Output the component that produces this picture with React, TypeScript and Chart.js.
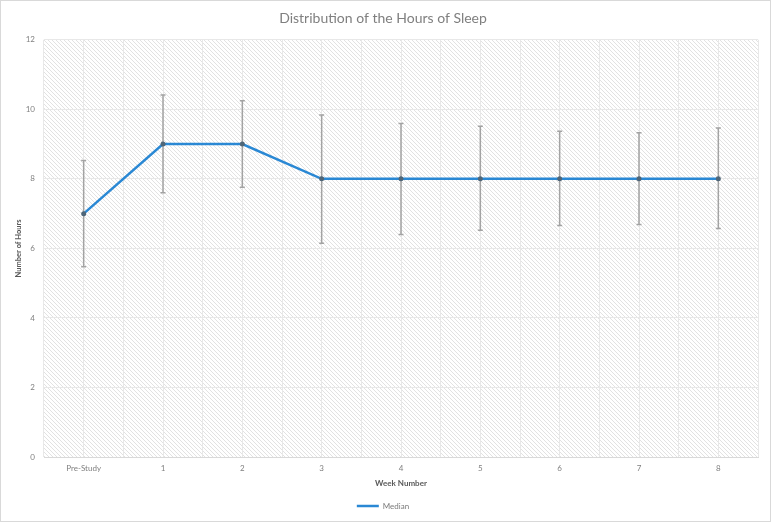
import React, { useEffect, useRef } from "react";
import { Chart, registerables } from "chart.js";

Chart.register(...registerables);

const categories = ["Pre-Study", "1", "2", "3", "4", "5", "6", "7", "8"];
const medianHours = [7, 9, 9, 8, 8, 8, 8, 8, 8];
const errorUpper = [8.53, 10.41, 10.25, 9.84, 9.59, 9.51, 9.37, 9.33, 9.46];
const errorLower = [5.47, 7.6, 7.76, 6.15, 6.4, 6.52, 6.66, 6.69, 6.57];
const yMin = 0;
const yMax = 12;
const yStep = 2;

const FONT = "Lato, 'Open Sans', 'DejaVu Sans', sans-serif";
const LINE_COLOR = "#2a88d4";

function makePattern(ctx: CanvasRenderingContext2D) {
  const c = document.createElement("canvas");
  c.width = 4;
  c.height = 4;
  const p = c.getContext("2d")!;
  p.fillStyle = "#ffffff";
  p.fillRect(0, 0, 4, 4);
  p.fillStyle = "#e2e2e2";
  for (let i = 0; i < 4; i++) {
    p.fillRect(i, i, 1, 1);
  }
  return ctx.createPattern(c, "repeat");
}

const hatchPlugin = {
  id: "hatch",
  beforeDraw(chart: any) {
    const { ctx, chartArea } = chart;
    if (!chartArea) return;
    const pat = makePattern(ctx);
    ctx.save();
    ctx.fillStyle = pat || "#f4f4f4";
    ctx.fillRect(chartArea.left, chartArea.top, chartArea.right - chartArea.left, chartArea.bottom - chartArea.top);
    ctx.restore();
  },
};

const errorBarPlugin = {
  id: "errorBars",
  beforeDatasetsDraw(chart: any) {
    const { ctx } = chart;
    const xs = chart.scales.x;
    const ys = chart.scales.y;
    ctx.save();
    ctx.strokeStyle = "#a3a3a3";
    ctx.lineWidth = 1.5;
    const cap = 2.5;
    for (let i = 0; i < categories.length; i++) {
      const x = xs.getPixelForValue(i);
      const yt = ys.getPixelForValue(errorUpper[i]);
      const yb = ys.getPixelForValue(errorLower[i]);
      ctx.beginPath();
      ctx.moveTo(x, yt);
      ctx.lineTo(x, yb);
      ctx.moveTo(x - cap, yt);
      ctx.lineTo(x + cap, yt);
      ctx.moveTo(x - cap, yb);
      ctx.lineTo(x + cap, yb);
      ctx.stroke();
    }
    ctx.restore();
  },
};

export default function App() {
  const ref = useRef<HTMLCanvasElement>(null);

  useEffect(() => {
    if (!ref.current) return;
    const chart = new Chart(ref.current, {
      type: "line",
      data: {
        labels: categories,
        datasets: [
          {
            label: "Median",
            data: medianHours,
            borderColor: LINE_COLOR,
            backgroundColor: LINE_COLOR,
            borderWidth: 2.5,
            pointRadius: 2.5,
            pointBackgroundColor: "#4f6678",
            pointBorderColor: "#4f6678",
            pointBorderWidth: 0,
            tension: 0,
            xAxisID: "x",
          },
        ],
      },
      options: {
        animation: false,
        responsive: true,
        maintainAspectRatio: false,
        layout: { padding: { left: 8, right: 14, top: 0, bottom: 3 } },
        plugins: {
          title: {
            display: true,
            text: "Distribution of the Hours of Sleep",
            color: "#7f7f7f",
            font: { family: FONT, size: 14, weight: "normal" },
            padding: { top: 10, bottom: 13 },
          },
          legend: {
            display: true,
            position: "bottom",
            labels: {
              color: "#7a7a7a",
              font: { family: FONT, size: 8 },
              usePointStyle: true,
              pointStyle: "line",
              pointStyleWidth: 22,
              boxHeight: 8,
              padding: 10,
              generateLabels(chart: any) {
                return chart.data.datasets.map((ds: any, i: number) => ({
                  text: ds.label,
                  fillStyle: LINE_COLOR,
                  strokeStyle: LINE_COLOR,
                  lineWidth: 2.5,
                  pointStyle: "line",
                  hidden: false,
                  datasetIndex: i,
                  fontColor: "#7a7a7a",
                }));
              },
            },
          },
          tooltip: { enabled: false },
        },
        scales: {
          x: {
            type: "category",
            offset: true,
            grid: { offset: true, color: "#e8e8e8", drawTicks: false, lineWidth: 1 },
            border: { display: true, color: "#d9d9d9" },
            ticks: { color: "#7f7f7f", font: { family: FONT, size: 8 }, padding: 7, maxRotation: 0, autoSkip: false },
            title: {
              display: true,
              text: "Week Number",
              color: "#595959",
              font: { family: FONT, size: 8, weight: "bold" },
              padding: { top: 0, bottom: 4 },
            },
            afterFit(scale: any) {
              scale.height = 35;
            },
          },
          x2: {
            type: "category",
            labels: categories,
            position: "bottom",
            offset: true,
            grid: { offset: false, color: "#e8e8e8", drawTicks: false },
            border: { display: false },
            ticks: { display: false },
            afterFit(scale: any) {
              scale.height = 0;
            },
          },
          y: {
            min: yMin,
            max: yMax,
            ticks: { stepSize: yStep, color: "#7f7f7f", font: { family: FONT, size: 8 }, padding: 9 },
            grid: { color: "#e8e8e8", drawTicks: false },
            border: { display: false },
            title: {
              display: true,
              text: "Number of Hours",
              color: "#595959",
              font: { family: FONT, size: 7.5, weight: "bold" },
              padding: { top: 6, bottom: 0 },
            },
            afterFit(scale: any) {
              scale.width = 36;
            },
          },
        },
      },
      plugins: [hatchPlugin, errorBarPlugin],
    });
    return () => chart.destroy();
  }, []);

  return (
    <div style={{ position: "absolute", left: 0, top: 0, width: 772, height: 523, background: "#ffffff" }}>
      <canvas ref={ref} />
      <div
        style={{
          position: "absolute",
          left: 0,
          top: 0,
          width: 771,
          height: 522,
          boxSizing: "border-box",
          border: "1px solid #d9d9d9",
          pointerEvents: "none",
        }}
      />
    </div>
  );
}
